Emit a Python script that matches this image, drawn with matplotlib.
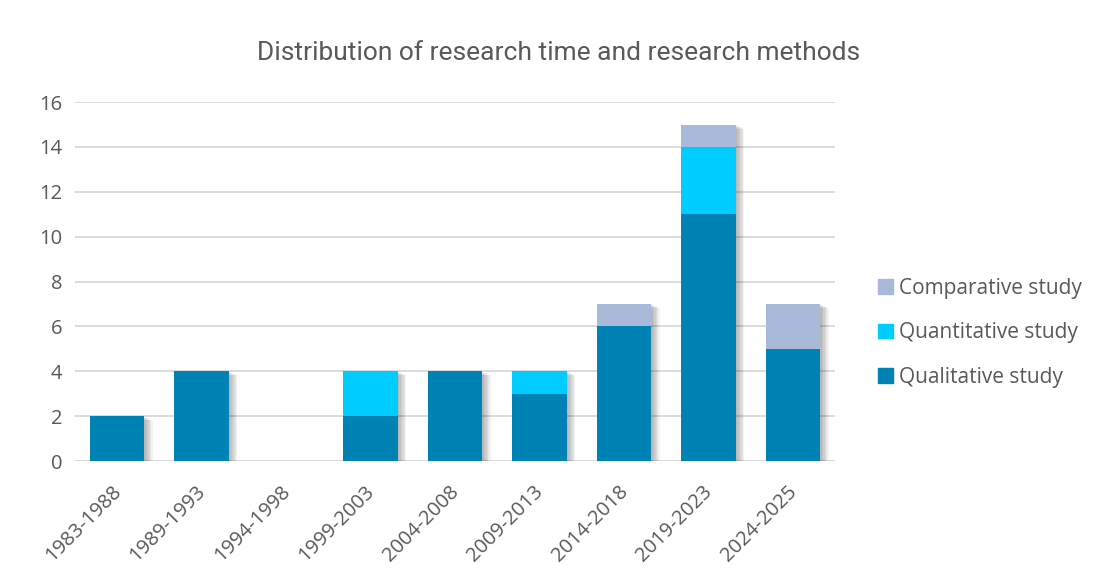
import matplotlib
matplotlib.use("Agg")
import matplotlib.pyplot as plt
import matplotlib.patheffects as pe
import matplotlib.transforms as mtrans
from matplotlib.patches import Patch
import numpy as np

categories = ["1983-1988", "1989-1993", "1994-1998", "1999-2003", "2004-2008",
              "2009-2013", "2014-2018", "2019-2023", "2024-2025"]
qualitative = [2, 4, 0, 2, 4, 3, 6, 11, 5]
quantitative = [0, 0, 0, 2, 0, 1, 0, 3, 0]
comparative = [0, 0, 0, 0, 0, 0, 1, 1, 2]

c_qual = "#0082B4"
c_quant = "#00CCFF"
c_comp = "#A9B9D9"
txt = "#595959"

fig = plt.figure(figsize=(10.99, 5.84), dpi=100)
ax = fig.add_axes([0.068, 0.2106, 0.692, 0.6146])

x = np.arange(len(categories))
w = 0.65

q = np.array(qualitative)
n = np.array(quantitative)
c = np.array(comparative)
tot = q + n + c

# soft shadow for each stack
effects = []
for i in range(1, 7):
    effects.append(pe.SimplePatchShadow(offset=(i, -i * 0.5), shadow_rgbFace="#000000", alpha=0.05))
effects.append(pe.Normal())
sb = ax.bar(x, tot, w, color="white", edgecolor="none", zorder=2)
for r, t in zip(sb, tot):
    if t > 0:
        r.set_path_effects(effects)
    else:
        r.set_visible(False)

ax.bar(x, q, w, color=c_qual, zorder=3, label="Qualitative study")
ax.bar(x, n, w, bottom=q, color=c_quant, zorder=3, label="Quantitative study")
ax.bar(x, c, w, bottom=q + n, color=c_comp, zorder=3, label="Comparative study")

ax.set_xlim(-0.5, len(categories) - 0.5)
ax.set_ylim(0, 16)
ax.set_yticks(range(0, 17, 2))
ax.yaxis.grid(True, color="#D9D9D9", linewidth=1.3, zorder=0)
ax.set_axisbelow(True)
for s in ax.spines.values():
    s.set_visible(False)
ax.tick_params(axis="both", length=0, colors=txt, labelsize=14.5)
ax.tick_params(axis="y", pad=9)
ax.tick_params(axis="x", pad=15)
ax.set_xticks(x)
ax.set_xticklabels(categories, rotation=45, ha="right", rotation_mode="anchor",
                   family="Open Sans", fontsize=14.5, color=txt)
shift = mtrans.ScaledTranslation(-6 / 100, 0, fig.dpi_scale_trans)
for lbl in ax.get_xticklabels():
    lbl.set_transform(lbl.get_transform() + shift)
for lbl in ax.get_yticklabels():
    lbl.set_family("Open Sans")

fig.text(0.508, 0.91, "Distribution of research time and research methods",
         ha="center", va="center", fontsize=19, color=txt, family="Roboto", weight="normal")

handles = [Patch(color=c_comp), Patch(color=c_quant), Patch(color=c_qual)]
labels = ["Comparative study", "Quantitative study", "Qualitative study"]
leg = fig.legend(handles, labels, loc="center left", bbox_to_anchor=(0.782, 0.430),
                 frameon=False, handlelength=0.7, handleheight=0.7, handletextpad=0.3,
                 labelspacing=1.12, prop={"family": "Open Sans", "size": 15})
for t in leg.get_texts():
    t.set_color(txt)

fig.savefig("out.png", dpi=100)
